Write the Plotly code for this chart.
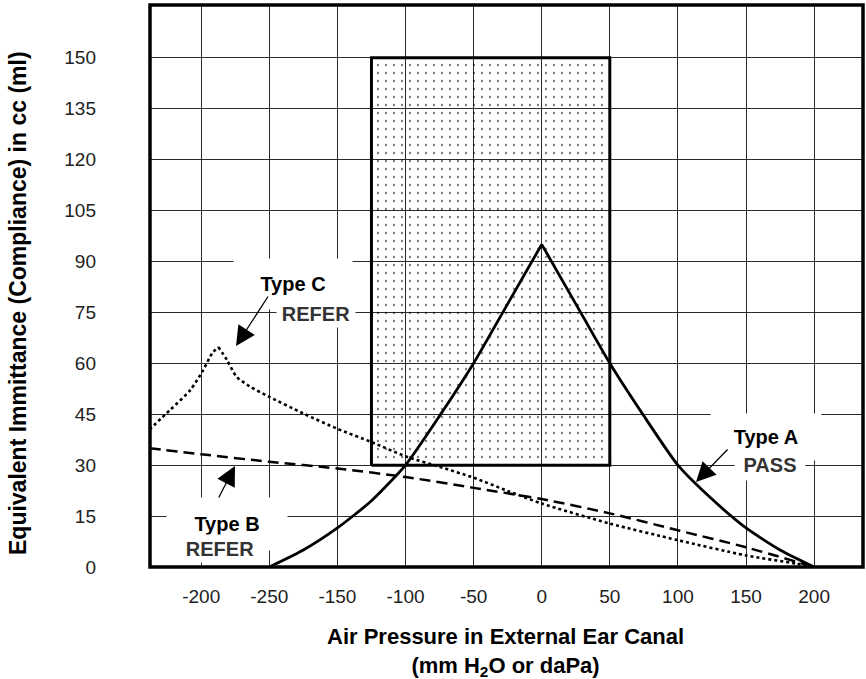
import plotly.graph_objects as go

# ---------------- data ----------------
pressure_a = [-200, -175, -150, -125, -100, -75, -50, -25, 0, 25, 50, 75, 100, 125, 150, 175, 200]
type_a = [0, 5, 11.5, 19.5, 30, 44.5, 60, 77.5, 95, 77.5, 60, 44.5, 30, 20, 11.5, 5, 0]
peak_a = 8  # index of the tympanogram peak

pressure_b = [-288, -250, -200, -150, -100, -50, 0, 50, 100, 150, 200]
type_b = [35, 33.2, 31, 29, 26.5, 23.3, 20, 15.8, 10.8, 5.8, 0]

pressure_c = [-288, -273, -258, -248.5, -242, -237.5, -231, -224, -214, -200, -175, -150,
              -125, -100, -75, -50, -25, 0, 50, 100, 150, 187, 200]
type_c = [40.5, 46.2, 52.1, 58, 62.9, 64.8, 60.9, 56, 53.1, 50.1, 45.2, 40.7,
          36.8, 32.6, 29.5, 26.3, 22.4, 18.7, 12.8, 7.9, 3.4, 1.0, 0]
peak_c = 5

normal_pressure = [-125, 50]
normal_compliance = [30, 150]

x_tickvals = [-250, -200, -150, -100, -50, 0, 50, 100, 150, 200]
x_ticktext = ["-200", "-250", "-150", "-100", "-50", "0", "50", "100", "150", "200"]
y_tickvals = [0, 15, 30, 45, 60, 75, 90, 105, 120, 135, 150]

x_range = [-287.6, 235.9]
y_range = [0, 165.5]

FONT = "Liberation Sans, Arial, sans-serif"

fig = go.Figure()

# stippled normal region
bx = [normal_pressure[0], normal_pressure[1], normal_pressure[1], normal_pressure[0], normal_pressure[0]]
by = [normal_compliance[0], normal_compliance[0], normal_compliance[1], normal_compliance[1], normal_compliance[0]]
fig.add_trace(go.Scatter(
    x=bx, y=by, mode="lines", fill="toself",
    fillcolor="rgba(0,0,0,0)",
    fillpattern=dict(shape=".", fgcolor="black", bgcolor="rgba(0,0,0,0)", size=8, solidity=0.07),
    line=dict(color="black", width=3), hoverinfo="skip", showlegend=False))

# Type B (dashed)
fig.add_trace(go.Scatter(x=pressure_b, y=type_b, mode="lines",
                         line=dict(color="black", width=2.5, dash="11px,6px", shape="spline", smoothing=0.8),
                         showlegend=False))
# Type C (dotted), drawn in two smooth pieces so the peak stays sharp
for sl in (slice(0, peak_c + 1), slice(peak_c, None)):
    fig.add_trace(go.Scatter(x=pressure_c[sl], y=type_c[sl], mode="lines",
                             line=dict(color="black", width=2.6, dash="dot", shape="spline", smoothing=0.7),
                             showlegend=False))
# Type A (solid)
for sl in (slice(0, peak_a + 1), slice(peak_a, None)):
    fig.add_trace(go.Scatter(x=pressure_a[sl], y=type_a[sl], mode="lines",
                             line=dict(color="black", width=2.8, shape="spline", smoothing=0.6),
                             showlegend=False))

# helpers for pixel -> data placement of labels
def px2x(px):
    return x_range[0] + (px - 150) / 713 * (x_range[1] - x_range[0])

def py2y(py):
    return y_range[1] - (py - 5) / 562 * (y_range[1] - y_range[0])

def label(text, cx, cy, w, h, color="black"):
    fig.add_annotation(x=px2x(cx), y=py2y(cy), text=f"<b>{text}</b>", showarrow=False,
                       bgcolor="white", width=w, height=h, borderpad=0,
                       xanchor="center", yanchor="middle",
                       font=dict(family=FONT, size=20, color=color))

def arrow(tx, ty, ax, ay):
    fig.add_annotation(x=px2x(tx), y=py2y(ty), ax=ax - tx, ay=ay - ty, text="",
                       showarrow=True, arrowhead=2, arrowsize=3, arrowwidth=1.3,
                       arrowcolor="black", standoff=0)

label("Type C", 293, 284, 118, 50)
label("REFER", 316, 313, 78, 27, "#333333")
label("Type A", 766, 437, 110, 46)
label("PASS", 770, 465, 70, 30, "#333333")
label("Type B", 227, 524, 120, 52)
label("REFER", 220, 548, 76, 27, "#333333")

arrow(236, 346, 269, 295)
arrow(235, 466, 218, 499)
arrow(696, 482, 729, 448)

# axis titles
fig.add_annotation(xref="paper", yref="paper", x=(505 - 150) / 713, y=(567 - 652) / 562,
                   xanchor="center", yanchor="middle",
                   text="<b>Air Pressure in External Ear Canal<br>(mm H<sub>2</sub>O or daPa)</b>",
                   showarrow=False, font=dict(family=FONT, size=22, color="black"))
fig.add_annotation(xref="paper", yref="paper", x=(18 - 150) / 713, y=(567 - 303) / 562,
                   xanchor="center", yanchor="middle",
                   text="<b>Equivalent Immittance (Compliance) in cc (ml)</b>", textangle=-90,
                   showarrow=False, font=dict(family=FONT, size=23, color="black"))

# frame
fig.add_shape(type="rect", xref="paper", yref="paper", x0=0, y0=0, x1=1, y1=1,
              line=dict(color="black", width=3.5), layer="above")

fig.update_xaxes(range=x_range, tickvals=x_tickvals, ticktext=x_ticktext,
                 showgrid=True, gridcolor="#2a2a2a", gridwidth=1.4, zeroline=False,
                 ticks="", ticklabelstandoff=16, showline=False,
                 tickfont=dict(family=FONT, size=19, color="#222222"))
fig.update_yaxes(range=y_range, tickvals=y_tickvals,
                 showgrid=True, gridcolor="#2a2a2a", gridwidth=1.4, zeroline=False,
                 ticks="", ticklabelstandoff=53, showline=False,
                 tickfont=dict(family=FONT, size=19, color="#222222"))

fig.update_layout(width=866, height=679, margin=dict(l=150, r=3, t=5, b=112),
                  plot_bgcolor="white", paper_bgcolor="white", showlegend=False)

fig.write_html("out.html", config={"displayModeBar": False},
               post_script="document.body.style.margin='0px';")
